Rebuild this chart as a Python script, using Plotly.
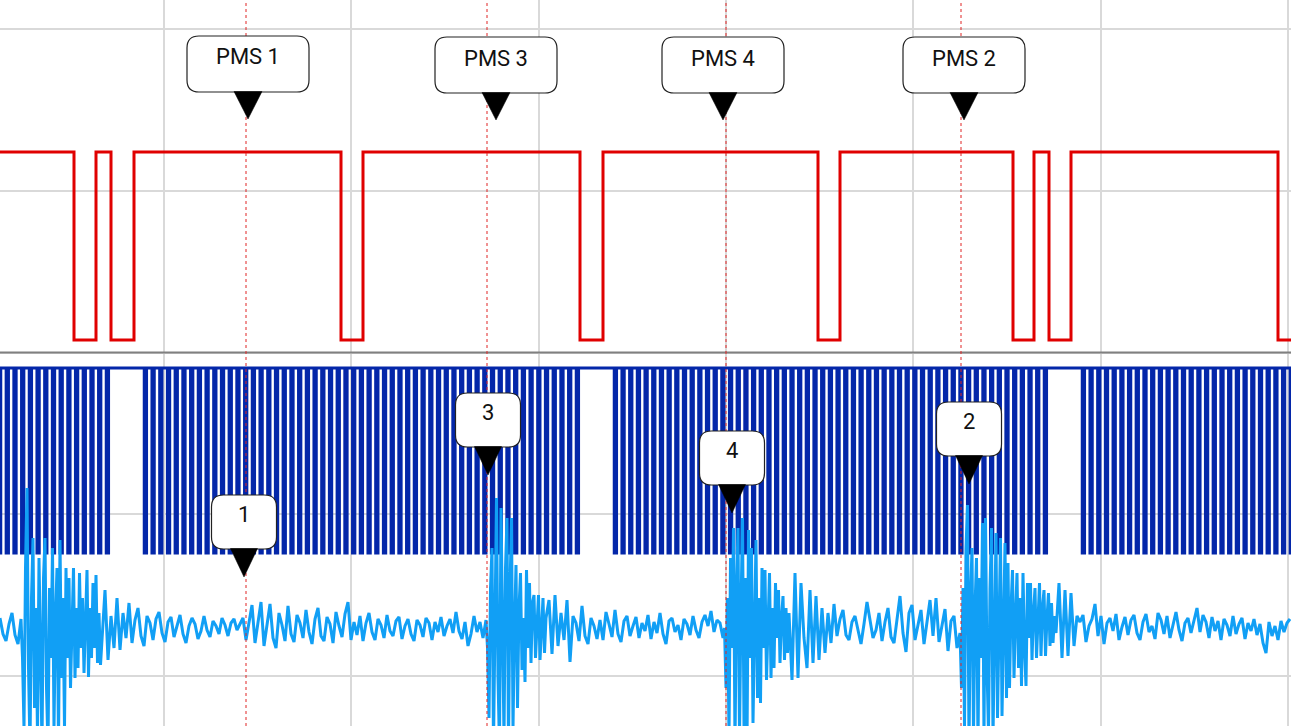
import numpy as np
import plotly.graph_objects as go

# ---------------- data (time in ms, 0.1 ms per screen pixel) ----------------
# Camshaft sensor (red): edge times and level after each edge (V)
cam_edges_ms = [7.4, 9.6, 11.1, 13.4, 34.1, 36.3, 58.0, 60.3, 81.8, 84.0,
                101.3, 103.4, 104.9, 107.1, 127.8]
cam_levels_v = [5, 0, 5, 0, 5, 0, 5, 0, 5, 0, 5, 0, 5, 0, 5, 0]

# Crankshaft sensor (dark blue): tooth groups between the missing-tooth gaps
crank_group_first_ms = [-0.155, 14.425, 61.425, 108.225]
crank_group_last_ms = [10.625, 57.625, 104.425, 129.015]
crank_group_teeth = [15, 57, 57, 28]
crank_tooth_low_ms = 0.23
crank_high_v = 5
crank_low_v = 0

# Knock / vibration sensor (light blue): coarse record, sampled every 0.3 ms from t = 0
vib_sample_ms = 0.3
vib_values = [
    1.0, -0.6, -1.3, 0.4, 1.5, -0.7, -1.6, 0.9, -7, 14, -12, 5, -5, 9.5, -11, 3, -12, 8.5, -3, 6,
    -11, 8.8, -2, -9, 6, -3, 4.5, -6, 1.5, 5.5, -4.5, 2, -3, 4.5, -1.5, 3.8, -3.2, 1.2, -2.0, 3.0,
    -2.2, 1.5, -1.0, 2.5, -1.5, 0.8, 2.0, -0.8, -1.8, 1.2, 0.5, -1.2, 0.9, 1.6, -0.5, -1.4, 0.6, 1.1, -0.9, 0.3,
    1.3, -0.6, -1.5, 0.2, 1.0, 0.4, -1.1, -0.3, 1.2, -0.2, -0.9, 0.7, 0.2, -0.6, 1.0, 0.3, -0.8, 0.5, 0.9, -0.2,
    0.4, 1.0, -1.2, 0.6, 2.3, -1.5, 0.8, 2.6, -1.8, 0.2, 2.4, -1.0, -2.0, 1.5, 0.3, -1.3, 2.2, -0.6, -1.4, 1.3,
    0.5, -1.0, 1.8, -0.4, -1.6, 0.9, 2.0, -0.8, -1.3, 1.1, 0.4, -1.5, 1.6, 0.2, -0.9, 1.4, 2.6, -1.2, 0.6, -0.7,
    1.2, -1.3, 0.5, 1.5, -0.4, -1.2, 0.9, 0.3, -1.0, 1.3, -0.3, -0.8, 0.7, 1.1, -1.1, 0.2, 0.9, -0.6, -1.3, 0.8,
    0.3, -0.9, 1.0, 0.5, -1.2, 0.6, -0.4, 1.1, -0.8, 0.2, 0.9, -0.5, 1.6, -0.3, -1.1, 0.6, -1.8, -0.6, 1.2, -0.4,
    0.6, -1.0, 0.8, -9, 8, -12, 13, -4, 12, -12, 3, -10.5, 11, -6, -11, 6.3, -2, 5.5, -5.4, 4.5,
    -3.5, 3.3, -3.2, 2.8, -2.6, 3.3, -1.8, 1.5, -1.2, 2.8, -3.4, 1.2, 0.5, -1.3, 2.2, -0.8, -1.6, 1.0, 0.2, -1.1,
    0.8, -1.2, 1.6, 0.4, -0.9, 1.8, -0.6, -1.4, 0.7, 1.2, -0.8, 0.2, 1.1, -1.0, 0.5, -0.3, 1.3, -1.1, 0.6, -0.5,
    1.5, -0.6, -1.6, 0.7, 1.0, -0.4, 0.3, -1.2, 0.9, 0.4, -0.7, 1.2, -0.2, -1.0, 0.6, 1.3, 0.2, 1.7, -0.4, 0.8,
    0.5, -1.0, -8, 7, -11, 2, 10, -12, 4, 11, -10, 3, 9.8, -11, 2, 8, -9.5, 1, 8.8, -7,
    6, -7.5, 5.8, -2, -5.2, 5.5, -5, 4.5, -1, -4, 3.8, -3.5, 3.2, -3.2, 2.0, -2.5, 1.5, -1.5, 2.4, -0.8,
    0.9, 1.8, -0.7, -1.2, 0.6, 1.2, -0.3, -1.6, 0.4, 2.6, 0.8, -1.0, -0.2, 1.5, -1.3, 0.6, 2.0, -0.9, -1.5, 0.9,
    3.2, -0.5, -2.4, 1.5, 2.3, -1.2, 0.4, 1.8, -1.6, 0.9, 2.8, -0.8, 3.0, -1.4, 0.2, 1.9, -2.3, 0.7, 1.2, -2.0,
    -0.5, -9, 12.3, -12, 3, 8, -11, 2, 7, -12, 10.5, -3, -11, 11, -10.5, 4, 10, -11, 9.5, -9,
    9, -8.8, 6.5, -6, 5.8, -1, -5.5, 5.5, -5.8, 4.5, -4.2, 4.0, -3.2, 4.5, -3.0, 3.8, -2.8, 3.5, -1.8, 1.2,
    0.6, 1.3, -1.4, 0.2, 0.9, 2.4, -0.8, 1.2, -1.6, 0.5, 1.0, -0.3, 1.4, -1.2, 0.1, 1.1, -0.7, 0.8, 1.3, -0.5,
    -1.2, 0.6, 1.4, -0.4, 0.2, -1.1, 1.5, 0.8, -0.6, 1.2, -1.0, 0.3, 1.6, -0.2, -1.3, 0.5, 1.0, -0.5, 0.8, 2.0,
    -0.4, 1.3, 0.6, -1.0, 1.1, -0.3, 0.7, -1.2, 0.9, 0.3, -0.8, 1.2, -0.6, 0.4, 1.0, -1.1, 0.5, -0.3, 0.9, -0.7,
    0.4, -1.5, -2.5, 0.6, -0.8, 0.2, -1.2, 0.7, -0.4, 0.5, 0.9,
]

# Knock bursts recorded at finer resolution (0.15 ms) -- cylinders 1, 3, 4, 2
burst_step_ms = 0.15
burst1_start_ms = 2.25
burst1_values = [
    -3, -10, 6, 14, -4, -12, 3, 9, -8, 2, -11, 7, -2, -12, 5, 9, -6, -12, 4, -3,
    8, -10, 1, 6, -12, 8.8, -5, 3, -10, 6, -3, 5, -6, 1, 6, -5, 2, -4, 5.5, -2,
    3, -4.5, 1, 5.8, -4.9, 2, -3, 4.5, -2, 5.3, -3.5, 1.5, -3.7,
]
burst2_start_ms = 48.75
burst2_values = [
    -2, -9, 4, 8, -12, 3, 13, -5, -12, 12, 2, -11, 6, 11, -12, 4, 11, -10, 0, 6.3,
    -8, 2, 5.5, -4.2, 1, -5.4, 5.8, -2, 4.5, -3.5, 2.5, 3.3, -3, 1, 3.3, -3.2, 0.5, 3.0,
    -2.5, 1,
]
burst3_start_ms = 72.45
burst3_values = [
    0, -6, 3, -11, 7, -2, 10, -12, 4, 10, -11, 2, 11, -10, 5, -12, 9.8, -3, 8, -9.5,
    2, 8.8, -7, 3, -7.5, 6, -2, 5.8, -5.2, 1, 5.5, -5, 2, -4, 4.5, -1, 3.8, -3.5, 1, 3.2,
    -3.2, 2, -2.5, 1.5, -1.5,
]
burst4_start_ms = 96.0
burst4_values = [
    -0.5, -6, 4, -10, 8, 12.3, -12, 3, 8, -11, 2, 7, -12, 5, -3, 10.5, -11, 11, -4, -10.5,
    4, 10, -11, 2, 9.5, -9, 3, 9, -8.8, 1, 8.5, -7, 6.5, -6, 2, 5.8, -5, 1, 5.5, -4,
    3, -5.8, 5.5, -2, -5.8, 4.5, -1, 4.5, -3.2, 1.5, 4.0, -3.0, 1, 4.5, -2.8, 2, 3.8, -2.8,
    1, 3.5, -1.8, 2.5, -1.5, 1.2, -0.5,
]

# Markers
pms_labels = ["PMS 1", "PMS 3", "PMS 4", "PMS 2"]
pms_line_ms = [24.6, 48.7, 72.6, 96.1]
pms_callout_ms = [24.8, 49.6, 72.3, 96.4]
cyl_labels = ["1", "3", "4", "2"]
cyl_callout_ms = [24.4, 48.8, 73.2, 96.9]

# ---------------- layout constants ----------------
W, H = 1291, 726
X_RANGE = [0, 129.1]
pms_tip_px = [119, 120, 120, 120]
cyl_tip_px = [577, 475, 513, 484]

# ---------------- build traces ----------------
cam_x = [0] + cam_edges_ms + [X_RANGE[1]]
cam_y = cam_levels_v + [cam_levels_v[-1]]

crank_x, crank_y = [], []
for f0, f1, n in zip(crank_group_first_ms, crank_group_last_ms, crank_group_teeth):
    for t in np.linspace(f0, f1, n):
        crank_x += [t, t + crank_tooth_low_ms]
        crank_y += [crank_low_v, crank_high_v]

bursts = [(burst1_start_ms, burst1_values), (burst2_start_ms, burst2_values),
          (burst3_start_ms, burst3_values), (burst4_start_ms, burst4_values)]
windows = [(s, s + (len(v) - 1) * burst_step_ms) for s, v in bursts]
pts = []
for i, v in enumerate(vib_values):
    t = i * vib_sample_ms
    if not any(a - 1e-9 <= t <= b + 1e-9 for a, b in windows):
        pts.append((t, v))
for s, vals in bursts:
    pts += [(s + k * burst_step_ms, v) for k, v in enumerate(vals)]
pts.sort(key=lambda p: p[0])
vib_x = [p[0] for p in pts]
vib_y = [p[1] for p in pts]

fig = go.Figure()
fig.add_trace(go.Scatter(x=[], y=[], xaxis="x", yaxis="y", showlegend=False, hoverinfo="skip"))
fig.add_trace(go.Scatter(x=cam_x, y=cam_y, yaxis="y2", mode="lines", line_shape="hv",
                         line=dict(color="#e00000", width=3), showlegend=False))
fig.add_trace(go.Scatter(x=crank_x, y=crank_y, yaxis="y3", mode="lines", line_shape="hv",
                         line=dict(color="#0427a9", width=3), showlegend=False))
fig.add_trace(go.Scatter(x=vib_x, y=vib_y, yaxis="y4", mode="lines",
                         line=dict(color="#119ff5", width=3), showlegend=False))

# ---------------- shapes & annotations ----------------
shapes = []
annotations = []

# channel separator
shapes.append(dict(type="line", xref="paper", x0=0, x1=1, yref="y", y0=352.5, y1=352.5,
                   line=dict(color="#808080", width=2), layer="above"))

for t in pms_line_ms:
    shapes.append(dict(type="line", xref="x", x0=t, x1=t, yref="paper", y0=0, y1=1,
                       line=dict(color="#e02424", width=1, dash="3px,3px"), layer="above"))


def rounded_box(w, h, gap, r):
    L, R, B, T = -w / 2, w / 2, gap, gap + h
    return (f"M {L + r},{T} L {R - r},{T} Q {R},{T} {R},{T - r} L {R},{B + r} "
            f"Q {R},{B} {R - r},{B} L {L + r},{B} Q {L},{B} {L},{B + r} "
            f"L {L},{T - r} Q {L},{T} {L + r},{T} Z")


def add_callout(x_ms, tip_px, text, w, h, gap, r, tw, text_dy):
    ya = 1 - tip_px / H
    common = dict(type="path", xref="x", yref="paper", xsizemode="pixel", ysizemode="pixel",
                  xanchor=x_ms, yanchor=ya, layer="above")
    shapes.append(dict(common, path=rounded_box(w, h, gap, r), fillcolor="white",
                       line=dict(color="#222222", width=1.2)))
    shapes.append(dict(common, path=f"M {-tw},{gap + 0.5} L {tw},{gap + 0.5} L 0,0 Z",
                       fillcolor="black", line=dict(color="black", width=0.5)))
    annotations.append(dict(x=x_ms, xref="x", y=ya, yref="paper", yshift=text_dy,
                            text=text, showarrow=False, xanchor="center", yanchor="middle",
                            font=dict(family="Roboto, Arial, sans-serif", size=22, color="#111111")))


for t, tip, lab in zip(pms_callout_ms, pms_tip_px, pms_labels):
    add_callout(t, tip, lab, 122, 56, 27, 12, 14, 62)
for t, tip, lab in zip(cyl_callout_ms, cyl_tip_px, cyl_labels):
    add_callout(t, tip, lab, 65, 54, 28, 12, 13.5, 63)

hidden = dict(overlaying="y", visible=False, showgrid=False, zeroline=False, fixedrange=True)

fig.update_layout(
    width=W, height=H,
    margin=dict(l=0, r=0, t=0, b=0, pad=0),
    paper_bgcolor="white", plot_bgcolor="white",
    showlegend=False,
    xaxis=dict(range=X_RANGE, showgrid=True, gridcolor="#d9d9d9", gridwidth=1.5,
               tick0=16.4, dtick=18.73, showticklabels=False, ticks="",
               zeroline=False, showline=False),
    yaxis=dict(range=[H, 0], showgrid=True, gridcolor="#d9d9d9", gridwidth=1.5,
               tick0=29, dtick=161.75, showticklabels=False, ticks="",
               zeroline=False, showline=False),
    yaxis2=dict(hidden, range=[-10.266, 9.043]),
    yaxis3=dict(hidden, range=[-4.676, 14.946]),
    yaxis4=dict(hidden, range=[-9.8, 62.8]),
    shapes=shapes,
    annotations=annotations,
)

fig.write_html("out.html")
